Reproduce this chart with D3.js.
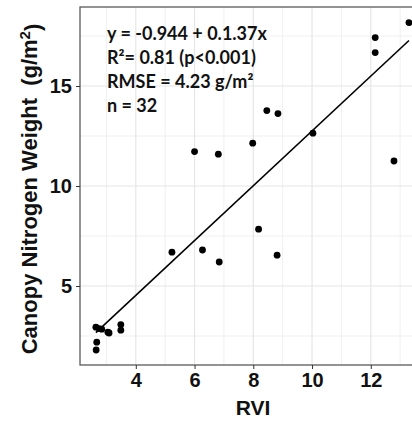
<!DOCTYPE html>
<html>
<head>
<meta charset="utf-8">
<script src="https://cdn.jsdelivr.net/npm/d3@7"></script>
<style>
  body { margin: 0; background: #fff; }
  svg { display: block; }
</style>
</head>
<body>
<div id="chart"></div>
<script>
var width = 412,
    height = 421;

// data
var rvi = [2.64, 2.75, 2.84, 3.05, 3.09, 2.67, 2.65, 3.49, 3.49,
    5.23, 6.27, 6.0, 6.81, 7.98, 8.18, 6.84, 8.81,
    8.46, 8.84, 10.03, 12.15, 12.15, 12.79, 13.3];
var cnw = [2.94, 2.87, 2.84, 2.69, 2.65, 2.19, 1.8, 3.07, 2.79,
    6.69, 6.8, 11.72, 11.59, 12.14, 7.84, 6.2, 6.54,
    13.77, 13.62, 12.64, 17.42, 16.67, 11.25, 18.17];
var xTicks = [4, 6, 8, 10, 12];
var xMinor = [3, 5, 7, 9, 11, 13];
var yTicks = [5, 10, 15];
var yMinor = [2.5, 7.5, 12.5, 17.5];
var fitIntercept = -0.944,
    fitSlope = 1.37;
var statLines = ["y = -0.944 + 0.1.37x", "R\u00b2= 0.81 (p<0.001)", "RMSE = 4.23 g/m\u00b2", "n = 32"];

var pLeft = 80, pTop = 7, pRight = 426, pBottom = 365;

var x = d3.scaleLinear().domain([2.1, 13.88]).range([pLeft, pRight]);
var y = d3.scaleLinear().domain([1.05, 18.95]).range([pBottom, pTop]);

var svg = d3.select("#chart")
    .append("svg")
    .attr("width", width)
    .attr("height", height);

// grid
var grid = svg.append("g");
grid.selectAll("line.xminor").data(xMinor).enter().append("line")
    .attr("x1", d => x(d)).attr("x2", d => x(d))
    .attr("y1", pTop).attr("y2", pBottom)
    .attr("stroke", "#f0f0f0").attr("stroke-width", 1);
grid.selectAll("line.yminor").data(yMinor).enter().append("line")
    .attr("x1", pLeft).attr("x2", pRight)
    .attr("y1", d => y(d)).attr("y2", d => y(d))
    .attr("stroke", "#f0f0f0").attr("stroke-width", 1);
grid.selectAll("line.xmajor").data(xTicks).enter().append("line")
    .attr("x1", d => x(d)).attr("x2", d => x(d))
    .attr("y1", pTop).attr("y2", pBottom)
    .attr("stroke", "#e6e6e6").attr("stroke-width", 1.2);
grid.selectAll("line.ymajor").data(yTicks).enter().append("line")
    .attr("x1", pLeft).attr("x2", pRight)
    .attr("y1", d => y(d)).attr("y2", d => y(d))
    .attr("stroke", "#e6e6e6").attr("stroke-width", 1.2);

// panel border
svg.append("rect")
    .attr("x", pLeft).attr("y", pTop)
    .attr("width", pRight - pLeft).attr("height", pBottom - pTop)
    .attr("fill", "none")
    .attr("stroke", "#5a5a5a")
    .attr("stroke-width", 1.3);

// axes
var xAxis = svg.append("g")
    .attr("transform", "translate(0," + pBottom + ")")
    .call(d3.axisBottom(x).tickValues(xTicks).tickSizeOuter(0).tickSizeInner(4).tickPadding(4));
var yAxis = svg.append("g")
    .attr("transform", "translate(" + pLeft + ",0)")
    .call(d3.axisLeft(y).tickValues(yTicks).tickSizeOuter(0).tickSizeInner(4).tickPadding(4));
[xAxis, yAxis].forEach(function(a) {
    a.select(".domain").remove();
    a.selectAll(".tick line").attr("stroke", "#333");
    a.selectAll(".tick text")
        .attr("fill", "#111")
        .style("font-family", "Liberation Sans, Arial, sans-serif")
        .style("font-weight", "bold")
        .style("font-size", "20px");
});

// regression line
var xr = d3.extent(rvi);
svg.append("line")
    .attr("x1", x(xr[0])).attr("y1", y(fitIntercept + fitSlope * xr[0]))
    .attr("x2", x(xr[1])).attr("y2", y(fitIntercept + fitSlope * xr[1]))
    .attr("stroke", "#000")
    .attr("stroke-width", 1.6);

// points
svg.selectAll("circle.pt").data(rvi).enter().append("circle")
    .attr("class", "pt")
    .attr("cx", d => x(d))
    .attr("cy", (d, i) => y(cnw[i]))
    .attr("r", 3.4)
    .attr("fill", "#000");

// stats text
var stats = svg.append("g");
stats.selectAll("text").data(statLines).enter().append("text")
    .attr("x", 107)
    .attr("y", (d, i) => 40 + i * 24)
    .text(d => d)
    .style("font-family", "Lato, 'Open Sans', sans-serif")
    .style("font-weight", "bold")
    .style("font-size", "18px")
    .attr("fill", "#111");

// axis titles
svg.append("text")
    .attr("x", (pLeft + pRight) / 2)
    .attr("y", 415)
    .attr("text-anchor", "middle")
    .style("font-family", "Liberation Sans, Arial, sans-serif")
    .style("font-weight", "bold")
    .style("font-size", "21px")
    .attr("fill", "#111")
    .text("RVI");

var yl = svg.append("text")
    .attr("transform", "translate(37," + ((pTop + pBottom) / 2 + 3) + ") rotate(-90)")
    .attr("text-anchor", "middle")
    .style("font-family", "Liberation Sans, Arial, sans-serif")
    .style("font-weight", "bold")
    .style("font-size", "22px")
    .attr("fill", "#111");
yl.append("tspan").text("Canopy Nitrogen Weight\u00a0 (g/m");
yl.append("tspan").text("2").attr("dy", "-0.45em").style("font-size", "15px");
yl.append("tspan").text(")").attr("dy", "0.45em");
</script>
</body>
</html>
